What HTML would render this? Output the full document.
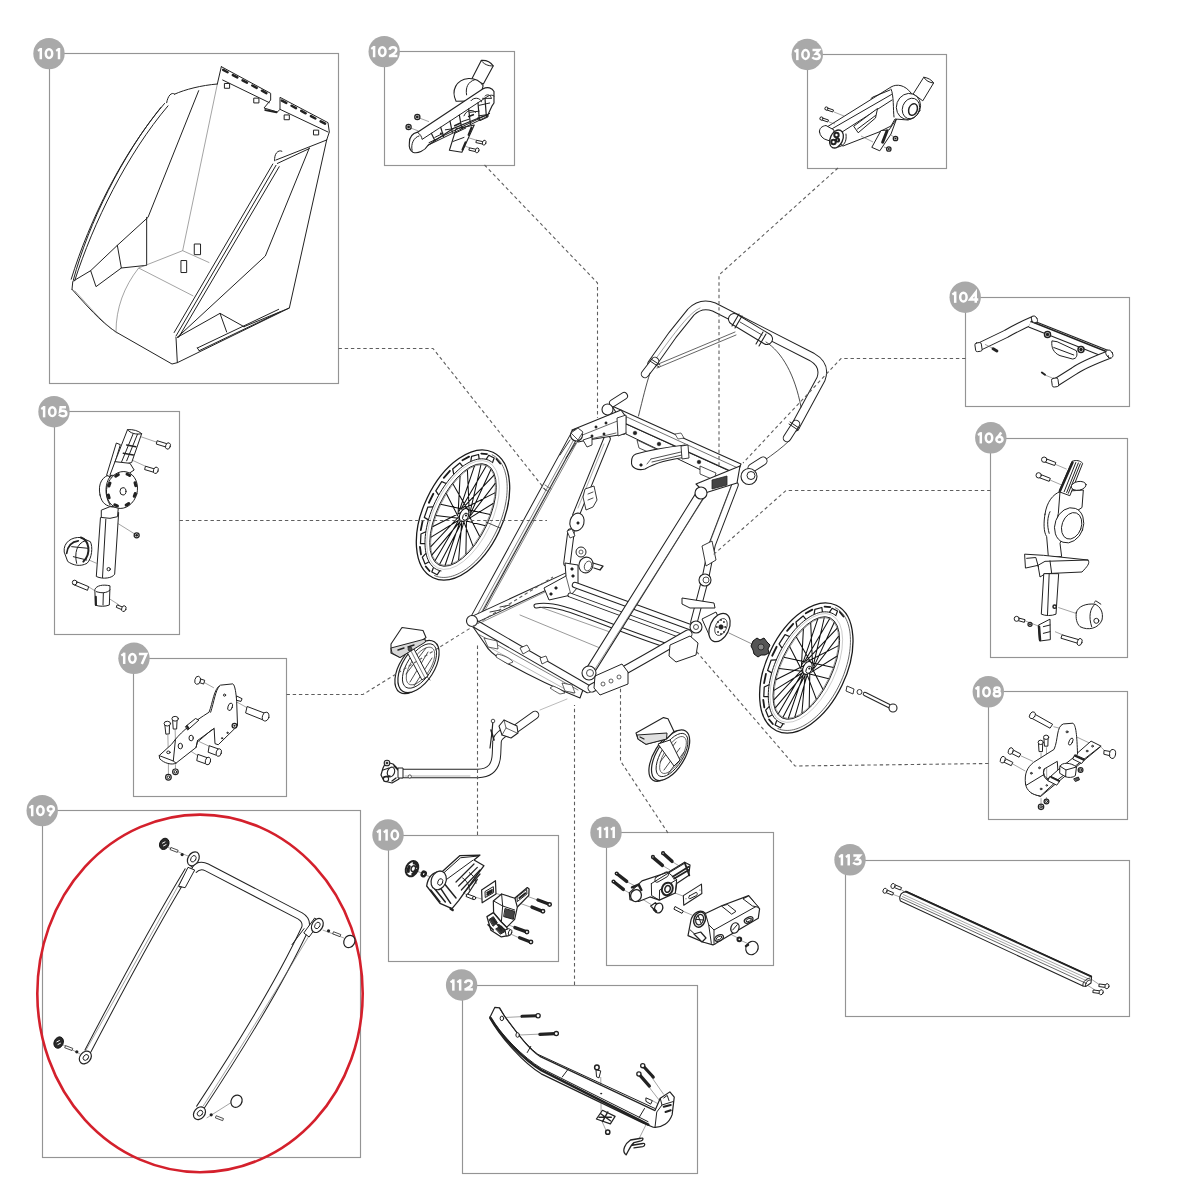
<!DOCTYPE html>
<html><head><meta charset="utf-8">
<style>
html,body{margin:0;padding:0;background:#fff;}
body{width:1200px;height:1200px;overflow:hidden;}
svg{display:block;}
.bx{fill:none;stroke:#949494;stroke-width:1.15;}
.ds{fill:none;stroke:#5e5e5e;stroke-width:1.1;stroke-dasharray:3.4 2.8;}
.lb circle{fill:#a9a9a9;}
.lb text{fill:#fff;font-family:"Liberation Sans",sans-serif;font-weight:bold;font-size:15px;text-anchor:middle;}
.k{fill:#fff;stroke:#222;stroke-linejoin:round;stroke-linecap:round;}
.kn{fill:none;stroke:#222;stroke-linejoin:round;stroke-linecap:round;}
.th{fill:none;stroke:#666;}
#drawings *{vector-effect:non-scaling-stroke;}
.f{fill:#222;stroke:none;}
.k:not([stroke-width]),.kn:not([stroke-width]){stroke-width:1;}
.th:not([stroke-width]){stroke-width:0.6;}
</style></head>
<body>
<svg width="1200" height="1200" viewBox="0 0 1200 1200">
<!-- boxes -->
<g class="bx">
<rect x="49.5" y="53.5" width="289" height="330"/>
<rect x="384.5" y="51.5" width="130" height="114"/>
<rect x="807.5" y="54.5" width="139" height="114"/>
<rect x="965.5" y="297.5" width="164" height="109"/>
<rect x="54.5" y="411.5" width="125" height="223"/>
<rect x="990.5" y="438.5" width="137" height="219"/>
<rect x="133.5" y="658.5" width="153" height="138"/>
<rect x="988.5" y="691.5" width="139" height="128"/>
<rect x="42.5" y="810.5" width="318" height="347"/>
<rect x="388.5" y="835.5" width="170" height="126"/>
<rect x="606.5" y="832.5" width="167" height="133"/>
<rect x="462.5" y="985.5" width="235" height="188"/>
<rect x="845.5" y="860.5" width="284" height="156"/>
</g>
<!-- red ellipse -->
<ellipse cx="200" cy="993.4" rx="162.7" ry="178.8" fill="none" stroke="#d4202c" stroke-width="2.6"/>
<!-- DRAWINGS -->
<g id="drawings">
<g transform="translate(60,60) scale(0.266667)">
<!-- back panel -->
<path class="kn" d="M605 25 L790 125 L790 150 L765 180 L815 195 L825 185 L825 140 L1005 235 L1010 270 L1000 300"/>
<path class="kn" d="M605 25 L590 90"/>
<path class="th" d="M590 90 L460 715"/>
<path class="kn" d="M610 75 L785 160 M825 185 L1005 270"/>
<path class="kn" stroke-width="2.5" stroke-dasharray="5 6" d="M612 37 L785 130 M832 152 L1000 242"/>
<path class="kn" stroke-width="2" d="M770 188 L812 196"/>
<path class="kn" d="M618 88h18v18h-18z M728 143h18v18h-18z M842 206h18v18h-18z M952 263h18v18h-18z"/>
<!-- left panel -->
<path class="kn" d="M590 90 C530 95 470 110 430 128"/>
<path class="kn" d="M430 128 C418 118 404 135 400 160"/>
<path class="kn" d="M392 163 C240 340 110 600 42 822 M405 172 C252 352 125 610 55 828 M378 178 C232 360 108 610 50 825"/>
<path class="kn" d="M520 115 L330 590 L215 695 L115 790 L135 850 L230 780 L215 695 M230 780 L325 770 L325 590"/>
<path class="kn" d="M45 860 L48 830 L115 790"/>
<path class="kn" d="M45 860 C100 920 150 980 210 1020 L420 1140 L440 1135 L860 930"/>
<path class="th" d="M295 780 C240 850 210 930 210 1020"/>
<path class="th" d="M295 780 L460 715 L560 760 M295 780 L500 885"/>
<path class="th" d="M55 865 C110 925 160 985 215 1025"/>
<!-- right panel -->
<path class="kn" d="M810 375 L1000 300 M815 388 L935 332"/>
<path class="kn" d="M805 378 C802 352 818 335 832 342"/>
<path class="kn" d="M810 395 L435 1035 M798 390 L428 1022 M822 400 L445 1040"/>
<path class="kn" d="M935 330 L770 735 L440 1040"/>
<path class="kn" d="M1000 300 L860 930 L690 1000"/>
<path class="kn" d="M435 1040 L440 1135"/>
<path class="kn" d="M440 1040 L600 950 L690 1000 M600 950 L625 1020"/>
<path class="kn" d="M515 1080 L820 935 M522 1090 L825 945 M515 1080 L522 1090"/>
<!-- floor tabs -->
<path class="kn" d="M505 690h22v40h-22z M455 752h20v45h-20z"/>
</g>

<g transform="translate(380,40) scale(0.116667)">
<path class="th" d="M340 670 L420 700 M265 755 L330 780 M830 860 L700 820 M770 925 L650 880"/>
<path class="k" d="M788 332 L868 175 C910 172 950 192 970 222 L886 378 Z" stroke-width="1.1"/>
<path class="kn" d="M868 175 C885 206 930 226 970 222"/>
<path class="k" d="M652 525 C608 435 650 340 760 330 C822 328 862 358 884 392 L852 522 Z" stroke-width="1.1"/>
<path class="kn" d="M742 470 C732 410 750 360 812 340"/>
<path class="k" d="M595 945 L652 762 L808 728 L702 962 Z" stroke-width="1.1"/>
<path class="kn" stroke-width="2" stroke-dasharray="8 8" d="M785 750 L705 945"/>
<path class="kn" d="M640 800 L735 755 M625 870 L720 835"/>
<path class="k" d="M252 880 C252 830 282 800 322 790 L880 420 C922 398 962 410 977 442 L977 540 L962 562 L925 640 L862 662 L620 762 L412 902 C382 952 322 977 282 962 C257 947 247 917 252 880 Z" stroke-width="1.15"/>
<path class="kn" d="M322 792 C345 805 358 830 361 852 L925 482 C945 470 965 470 977 480"/>
<path class="kn" d="M275 945 C262 890 290 835 335 822"/>
<path class="kn" d="M412 902 L930 650 M420 880 L940 630"/>
<path class="kn" stroke-width="1.2" d="M440 800 L470 862 M520 748 L545 828 M600 695 L620 792 M680 643 L700 757 M760 590 L775 722 M840 538 L852 688 M900 500 L912 660"/>
<path class="kn" d="M470 835 L540 800 M560 770 L630 760 M700 700 L760 680 M770 620 L850 610 M850 560 L940 540 M880 500 L950 500"/>
<path class="kn" stroke-width="1.6" d="M640 735 L690 712 M760 655 L800 640"/>
<path class="kn" d="M720 650 C740 600 790 590 820 620 M780 520 C800 490 860 490 870 530 M900 480 C920 460 950 470 955 500"/>
<circle class="f" cx="522" cy="802" r="9"/>
<circle class="f" cx="842" cy="672" r="9"/>
<path class="kn" d="M845 650 L920 640 L925 660 L860 690"/>
<circle class="k" cx="320" cy="660" r="22" stroke-width="1.3"/>
<circle class="f" cx="320" cy="660" r="12"/>
<circle class="k" cx="245" cy="745" r="22" stroke-width="1.3"/>
<circle class="f" cx="245" cy="745" r="12"/>
<path class="k" d="M830 860 L885 872 L880 892 L825 880 Z"/>
<ellipse class="k" cx="893" cy="880" rx="15" ry="22" transform="rotate(20 893 880)"/>
<path class="k" d="M770 925 L825 937 L820 957 L765 945 Z"/>
<ellipse class="k" cx="833" cy="946" rx="15" ry="22" transform="rotate(20 833 946)"/>
</g>

<g transform="translate(815,70) scale(0.1)">
<path class="k" d="M985 235 L1088 72 C1130 78 1168 100 1186 130 L1080 305 Z"/>
<path class="kn" d="M1088 72 C1105 108 1150 128 1186 130"/>
<path class="k" d="M120 570 L760 170 C820 135 900 150 960 230 L1040 300 C1060 400 1020 480 930 500 L800 490 L760 560 L640 620 L280 760 Z"/>
<path class="kn" d="M175 585 L765 245 M240 640 L770 300 M560 285 L580 270 L750 200"/>
<path class="kn" d="M760 190 C790 250 780 400 790 470"/>
<ellipse class="k" cx="935" cy="365" rx="120" ry="132" transform="rotate(20 935 365)"/>
<ellipse class="kn" cx="960" cy="385" rx="85" ry="105" transform="rotate(20 960 385)"/>
<ellipse class="k" cx="980" cy="395" rx="42" ry="60" transform="rotate(20 980 395)" stroke-width="1.5"/>
<path class="k" d="M390 560 L625 385 L605 480 L435 625 Z"/>
<path class="kn" stroke-width="1" d="M425 590 L605 455"/>
<path class="k" d="M45 620 C40 585 70 560 110 555 L190 600 L180 720 L120 700 C80 690 50 660 45 620 Z"/>
<ellipse class="k" cx="215" cy="690" rx="62" ry="95" transform="rotate(25 215 690)" stroke-width="1.3"/>
<circle class="kn" cx="215" cy="650" r="22" stroke-width="2"/>
<circle class="kn" cx="185" cy="720" r="22" stroke-width="2"/>
<circle class="kn" cx="225" cy="700" r="16" stroke-width="2"/>
<path class="kn" d="M230 770 C290 760 320 720 310 640"/>
<path class="k" d="M570 770 L660 605 L740 600 L815 490 L760 640 L650 805 Z"/>
<path class="kn" stroke-width="3" stroke-dasharray="12 10" d="M720 610 L650 790"/>
<path class="th" d="M190 420 L290 460 M140 520 L200 540 M460 660 L580 720 M830 700 L760 650 M760 800 L690 770"/>
<path class="k" d="M110 375 L185 400 L178 420 L105 395 Z"/>
<circle class="k" cx="115" cy="385" r="16"/>
<path class="k" d="M60 475 L135 500 L128 520 L55 495 Z"/>
<circle class="k" cx="65" cy="485" r="16"/>
<circle class="k" cx="805" cy="685" r="22" stroke-width="1.3"/>
<circle class="f" cx="805" cy="685" r="11"/>
<circle class="k" cx="738" cy="790" r="22" stroke-width="1.3"/>
<circle class="f" cx="738" cy="790" r="11"/>
</g>

<g transform="translate(970,310) scale(0.125)">
<path fill="none" stroke="#222" stroke-width="8.6" stroke-linecap="butt" d="M70 296 L290 190 C360 150 440 110 515 78"/>
<path fill="none" stroke="#fff" stroke-width="6.6" stroke-linecap="butt" d="M70 296 L290 190 C360 150 440 110 515 78"/>
<path fill="none" stroke="#222" stroke-width="8.6" d="M480 108 L1095 352"/>
<path fill="none" stroke="#fff" stroke-width="6.6" d="M480 108 L1095 352"/>
<path class="kn" d="M490 92 L1085 330" stroke-width="1.6"/>
<path fill="none" stroke="#222" stroke-width="8.6" d="M1118 355 C1000 400 900 440 830 490 L684 582"/>
<path fill="none" stroke="#fff" stroke-width="6.6" d="M1118 355 C1000 400 900 440 830 490 L684 582"/>
<rect class="k" x="42" y="262" width="52" height="70" rx="14" transform="rotate(-8 68 297)"/>
<rect class="k" x="655" y="545" width="52" height="70" rx="14" transform="rotate(-8 681 580)"/>
<ellipse class="k" cx="515" cy="75" rx="22" ry="30" transform="rotate(-30 515 75)"/>
<ellipse class="k" cx="1115" cy="352" rx="25" ry="35" transform="rotate(-30 1115 352)"/>
<circle class="f" cx="1105" cy="368" r="7"/>
<path class="k" d="M655 250 C648 300 670 345 720 365 L820 392 C855 390 862 360 850 325 L700 255 Z"/>
<path class="kn" d="M670 300 L830 360"/>
<circle class="k" cx="620" cy="195" r="24" stroke-width="1.5"/>
<circle class="f" cx="620" cy="195" r="14"/>
<circle class="k" cx="888" cy="315" r="24" stroke-width="1.5"/>
<circle class="f" cx="888" cy="315" r="14"/>
<path class="th" d="M120 275 L180 305 M600 520 L660 545"/>
<path class="kn" stroke-width="3" d="M185 310 L215 328"/>
<path class="kn" stroke-width="2" d="M575 500 L600 518"/>
</g>

<g transform="translate(60,420) scale(0.166667)">
<path class="th" d="M470 95 L600 140 M420 235 L540 290 M330 610 L450 685 M150 830 L220 860 M170 1000 L210 1025 M300 1075 L355 1110"/>
<path class="k" d="M245 585 L352 555 L328 925 C315 948 260 958 220 940 Z"/>
<path class="kn" d="M275 595 L255 945"/>
<circle class="k" cx="292" cy="895" r="10"/>
<path class="k" d="M250 540 L300 520 L350 525 L345 580 L300 590 L250 585 Z"/>
<path class="k" d="M240 450 C225 380 255 335 310 325 L360 345 L320 520 C280 520 250 500 240 450 Z"/>
<path class="k" d="M280 330 L338 138 L362 148 L305 340 Z"/>
<path class="k" d="M330 250 L405 58 C440 55 470 65 490 82 L430 255 L390 265 Z"/>
<path class="kn" d="M405 58 C420 80 460 90 490 82 M370 250 L440 80 M400 245 L465 85"/>
<path class="kn" stroke-width="1.5" d="M380 200 L440 210 M400 150 L455 160"/>
<path class="k" d="M300 330 L330 250 L420 260 L445 300 L400 330 Z"/>
<ellipse class="k" cx="372" cy="420" rx="92" ry="112" transform="rotate(15 372 420)"/>
<ellipse class="kn" cx="372" cy="420" rx="82" ry="100" transform="rotate(15 372 420)" stroke-width="3" stroke-dasharray="3 9"/>
<ellipse class="k" cx="378" cy="428" rx="18" ry="22"/>
<path class="kn" d="M300 340 C270 380 265 450 300 510"/>
<circle class="k" cx="460" cy="692" r="15" stroke-width="1.3"/>
<circle class="f" cx="460" cy="692" r="8"/>
<path class="k" d="M585 125 L650 145 L645 165 L580 145 Z"/>
<ellipse class="k" cx="648" cy="156" rx="14" ry="20" transform="rotate(20 648 156)"/>
<path class="k" d="M515 278 L572 295 L567 315 L510 298 Z"/>
<ellipse class="k" cx="575" cy="302" rx="14" ry="20" transform="rotate(20 575 302)"/>
<path class="k" d="M25 790 C18 735 70 700 125 705 L182 730 C198 760 192 830 162 860 C120 882 78 872 48 850 Z"/>
<path class="kn" stroke-width="2" d="M125 705 C175 720 190 800 140 850"/>
<path class="kn" d="M70 760 L170 770 M80 820 L160 840 M100 860 C85 800 100 740 150 725"/>
<path class="kn" stroke-width="1.6" d="M40 800 C45 760 70 730 110 725"/>
<path class="k" d="M88 965 L172 1000 L165 1022 L80 987 Z"/>
<circle class="k" cx="88" cy="975" r="14"/>
<path class="k" d="M210 1015 C218 993 258 985 300 995 L296 1110 C270 1120 240 1120 214 1112 Z"/>
<path class="kn" d="M218 1030 C250 1040 280 1040 300 1020 M260 1040 L258 1110"/>
<path class="kn" stroke-width="2" d="M215 1060 L216 1110"/>
<path class="k" d="M345 1110 L382 1125 L376 1140 L340 1125 Z"/>
<ellipse class="k" cx="383" cy="1132" rx="13" ry="18" transform="rotate(20 383 1132)"/>
</g>

<g transform="translate(1000,450) scale(0.166667)">
<path class="th" d="M330 85 L400 115 M300 180 L370 210 M350 945 L470 985 M150 1025 L240 1060 M330 1090 L390 1115"/>
<path class="k" d="M270 385 C280 310 320 265 360 250 L500 240 L492 345 L440 380 L360 560 L370 640 L290 640 L280 520 C260 490 262 430 270 385 Z"/>
<path class="kn" d="M360 250 L350 380 L330 470 M300 370 C285 400 280 450 295 500"/>
<path class="k" d="M355 248 L432 68 C458 58 482 64 496 80 L420 272 Z"/>
<path class="kn" stroke-width="2.5" d="M360 245 L435 75"/>
<path class="kn" d="M385 250 L455 75 M400 255 L470 78 M410 260 L482 82"/>
<ellipse class="k" cx="472" cy="215" rx="45" ry="26" transform="rotate(-10 472 215)"/>
<ellipse class="k" cx="415" cy="452" rx="85" ry="108" transform="rotate(20 415 452)"/>
<ellipse class="k" cx="430" cy="455" rx="58" ry="82" transform="rotate(20 430 455)"/>
<path class="k" d="M150 625 L262 632 L528 660 C542 680 522 700 492 732 L272 742 L240 762 L228 692 L155 708 Z"/>
<path class="kn" d="M228 692 L270 668 L528 660 M160 650 L215 645 L230 700 M300 665 L310 740"/>
<path class="k" d="M265 742 L352 742 L336 985 C310 996 272 996 250 986 Z"/>
<path class="kn" d="M295 745 L285 990"/>
<circle class="k" cx="328" cy="940" r="10" stroke-width="1.5"/>
<path class="k" d="M458 975 C468 935 520 920 570 925 C602 940 622 972 612 1020 C592 1070 530 1086 480 1060 C460 1040 453 1010 458 975 Z"/>
<path class="kn" d="M570 925 C540 950 530 1000 550 1060 M565 915 L575 905 L605 925"/>
<circle class="k" cx="578" cy="1025" r="15"/>
<path class="k" d="M265 48 L335 75 L328 93 L258 68 Z"/>
<circle class="k" cx="265" cy="58" r="16"/>
<path class="k" d="M232 142 L302 170 L295 188 L225 162 Z"/>
<circle class="k" cx="232" cy="152" r="16"/>
<path class="k" d="M100 1005 L150 1018 L146 1034 L96 1020 Z"/>
<circle class="k" cx="100" cy="1013" r="15"/>
<circle class="k" cx="180" cy="1046" r="12" stroke-width="1.3"/>
<circle class="f" cx="180" cy="1046" r="6"/>
<path class="k" d="M232 1050 L300 1015 L302 1138 L240 1146 Z"/>
<path class="kn" stroke-width="2.5" d="M234 1060 L240 1140"/>
<path class="kn" d="M260 1060 L300 1050 M260 1100 L300 1090"/>
<path class="k" d="M375 1110 L480 1140 L474 1162 L368 1130 Z"/>
<ellipse class="k" cx="478" cy="1152" rx="14" ry="22" transform="rotate(20 478 1152)"/>
</g>

<g transform="translate(150,670) scale(0.108333)">
<path class="th" d="M500 115 L590 165 M700 240 L900 350 M430 650 L560 710 M300 700 L440 790 M165 600 L168 740 M232 550 L236 700 M170 860 L170 970 M235 870 L235 920"/>
<path class="k" d="M800 240 L850 265 L840 290 L800 280 Z"/>
<path class="k" d="M235 640 C300 560 400 480 545 390 C580 300 590 170 650 140 L765 128 C785 140 795 220 800 290 L808 515 L630 690 L600 680 L592 540 L440 650 L425 715 L240 860 C200 880 130 860 90 820 L85 790 L195 690 Z"/>
<path class="kn" d="M85 790 L215 840 L240 860 M215 840 L235 640 M560 390 C590 300 605 180 640 150 M425 715 L440 650"/>
<path class="k" d="M330 520 L420 448 L452 462 L350 552 Z"/>
<path class="f" d="M330 520 L350 552 L365 538 L345 505 Z"/>
<path class="kn" d="M450 655 L560 560 L592 540"/>
<ellipse class="k" cx="740" cy="340" rx="20" ry="36" transform="rotate(20 740 340)"/>
<circle class="k" cx="688" cy="232" r="10"/>
<ellipse class="k" cx="380" cy="628" rx="20" ry="26"/>
<ellipse class="k" cx="280" cy="702" rx="20" ry="26"/>
<ellipse class="k" cx="170" cy="760" rx="16" ry="12"/>
<circle class="k" cx="665" cy="630" r="6"/>
<circle class="k" cx="715" cy="580" r="6"/>
<circle class="k" cx="780" cy="515" r="22" stroke-width="1.3"/>
<circle class="f" cx="780" cy="515" r="10"/>
<path class="k" d="M900 338 L1062 400 L1046 462 L886 398 Z"/>
<ellipse class="k" cx="1068" cy="430" rx="30" ry="42" transform="rotate(15 1068 430)"/>
<path class="k" d="M448 78 L505 95 L495 130 L440 110 Z"/>
<ellipse class="k" cx="440" cy="95" rx="26" ry="38" transform="rotate(15 440 95)"/>
<path class="k" d="M140 500 L180 500 L178 590 L150 592 Z"/>
<ellipse class="k" cx="160" cy="495" rx="30" ry="22"/>
<path class="k" d="M212 455 L250 455 L246 545 L218 545 Z"/>
<ellipse class="k" cx="232" cy="450" rx="30" ry="22"/>
<path class="k" d="M550 700 L635 730 L620 790 L540 760 Z"/>
<ellipse class="k" cx="635" cy="762" rx="24" ry="36" transform="rotate(15 635 762)"/>
<path class="k" d="M445 780 L535 812 L520 868 L435 838 Z"/>
<ellipse class="k" cx="535" cy="840" rx="24" ry="36" transform="rotate(15 535 840)"/>
<circle class="k" cx="170" cy="990" r="26" stroke-width="1.2"/>
<circle class="kn" cx="170" cy="990" r="12"/>
<circle class="k" cx="235" cy="940" r="26" stroke-width="1.2"/>
<circle class="kn" cx="235" cy="940" r="12"/>
</g>

<g transform="translate(995,705) scale(0.108333)">
<path class="th" d="M240 470 L350 520 M165 545 L280 610 M540 200 L600 215 M680 260 L870 350 M980 390 L1010 420 M425 440 L425 770 M475 390 L478 740 M425 860 L425 910 M475 850 L475 870"/>
<path class="k" d="M890 335 L980 380 L420 845 L340 815 Z"/>
<path class="kn" d="M400 830 L970 385"/>
<path class="k" d="M282 730 C268 630 300 575 355 530 L545 410 C585 320 565 200 630 175 L720 168 C748 188 756 280 762 455 L580 600 L575 520 L455 590 C440 640 450 680 500 700 L550 720 L420 840 C340 830 290 790 282 730 Z"/>
<path class="kn" d="M290 740 L455 640 M455 590 C430 640 460 680 520 690"/>
<ellipse class="k" cx="700" cy="338" rx="16" ry="35" transform="rotate(25 700 338)"/>
<circle class="k" cx="665" cy="248" r="9"/>
<circle class="k" cx="335" cy="630" r="8"/>
<circle class="k" cx="410" cy="580" r="8"/>
<circle class="k" cx="425" cy="775" r="8"/>
<circle class="k" cx="478" cy="742" r="7"/>
<path class="k" d="M740 460 L830 500 L800 540 L720 500 Z"/>
<path class="k" d="M510 660 L600 700 L570 740 L490 700 Z"/>
<path class="kn" stroke-width="2" d="M520 665 L590 700 M740 470 L815 505"/>
<path class="k" d="M600 565 C620 525 700 530 752 572 L742 652 C722 672 672 672 652 662 L600 632 Z"/>
<path class="kn" d="M600 565 L655 600 L752 572 M655 600 L652 662"/>
<circle class="k" cx="790" cy="600" r="22" stroke-width="1.2"/>
<circle class="kn" cx="790" cy="600" r="10"/>
<path class="k" d="M730 680 L770 665 L780 690 L745 705 Z" style="fill:#555"/>
<circle class="k" cx="850" cy="425" r="8"/>
<circle class="k" cx="900" cy="380" r="8"/>
<path class="k" d="M345 72 L532 178 L508 214 L320 112 Z"/>
<ellipse class="k" cx="345" cy="95" rx="24" ry="34" transform="rotate(30 345 95)"/>
<path class="k" d="M1010 420 L1070 430 L1068 470 L1008 455 Z"/>
<ellipse class="k" cx="1085" cy="452" rx="28" ry="42" transform="rotate(10 1085 452)"/>
<path class="k" d="M75 485 L165 530 L150 560 L62 518 Z"/>
<ellipse class="k" cx="72" cy="505" rx="22" ry="32" transform="rotate(20 72 505)"/>
<path class="k" d="M148 405 L238 452 L222 482 L135 438 Z"/>
<ellipse class="k" cx="145" cy="425" rx="22" ry="32" transform="rotate(20 145 425)"/>
<path class="k" d="M405 350 L440 350 L438 430 L410 430 Z"/>
<ellipse class="k" cx="422" cy="345" rx="24" ry="20"/>
<path class="k" d="M455 305 L490 305 L488 380 L460 380 Z"/>
<ellipse class="k" cx="472" cy="298" rx="24" ry="20"/>
<circle class="k" cx="425" cy="940" r="25" stroke-width="1.2"/>
<circle class="kn" cx="425" cy="940" r="11"/>
<circle class="k" cx="475" cy="890" r="22" stroke-width="1.2"/>
<circle class="kn" cx="475" cy="890" r="10"/>
</g>

<g transform="translate(40,830) scale(0.266667)">
<path fill="none" stroke="#222" stroke-width="7.2" stroke-linecap="butt" stroke-linejoin="round" d="M555 150 C440 340 320 560 178 832"/>
<path fill="none" stroke="#fff" stroke-width="5.2" stroke-linecap="butt" stroke-linejoin="round" d="M555 150 C440 340 320 560 178 832"/>
<path class="th" d="M540 170 C430 370 310 580 170 830"/>
<path fill="none" stroke="#222" stroke-width="8.4" stroke-linejoin="round" d="M575 150 C590 135 605 130 625 140 L975 322 Q1003 338 995 368 C900 570 760 800 598 1045"/>
<path fill="none" stroke="#fff" stroke-width="6.4" stroke-linejoin="round" d="M575 150 C590 135 605 130 625 140 L975 322 Q1003 338 995 368 C900 570 760 800 598 1045"/>
<path class="th" d="M1010 395 C905 570 770 790 612 1035"/>
<path class="kn" d="M525 215 L585 120 M945 430 L990 370"/>
<path class="k" d="M520 210 L555 140 L580 150 L545 215 Z"/>
<ellipse class="k" cx="575" cy="108" rx="20" ry="28" transform="rotate(30 575 108)" stroke-width="1.2"/>
<ellipse class="kn" cx="575" cy="108" rx="9" ry="13" transform="rotate(30 575 108)"/>
<path class="k" d="M990 385 L1030 330 L1050 345 L1010 400 Z"/>
<ellipse class="k" cx="1040" cy="358" rx="20" ry="28" transform="rotate(30 1040 358)" stroke-width="1.2"/>
<ellipse class="kn" cx="1040" cy="358" rx="9" ry="13" transform="rotate(30 1040 358)"/>
<ellipse class="k" cx="170" cy="853" rx="20" ry="26" transform="rotate(40 170 853)" stroke-width="1.2"/>
<ellipse class="kn" cx="172" cy="853" rx="9" ry="12" transform="rotate(40 172 853)"/>
<ellipse class="k" cx="598" cy="1062" rx="20" ry="26" transform="rotate(40 598 1062)" stroke-width="1.2"/>
<ellipse class="kn" cx="600" cy="1062" rx="9" ry="12" transform="rotate(40 600 1062)"/>
<path class="th" d="M480 65 L560 100 M85 805 L150 840 M1060 375 L1140 405 M625 1080 L720 1020"/>
<ellipse cx="466" cy="52" rx="17" ry="22" transform="rotate(25 466 52)" style="fill:#2a2a2a" stroke="#111" stroke-width="1"/>
<path fill="none" stroke="#fff" stroke-width="1" d="M458 50 L470 44 M462 60 L474 54"/>
<circle class="f" cx="533" cy="92" r="6"/>
<path class="k" d="M492 66 L518 76 L515 84 L489 74 Z" stroke-width="0.8"/>
<ellipse cx="70" cy="797" rx="17" ry="22" transform="rotate(25 70 797)" style="fill:#2a2a2a" stroke="#111" stroke-width="1"/>
<path fill="none" stroke="#fff" stroke-width="1" d="M62 795 L74 789 M66 805 L78 799"/>
<circle class="f" cx="138" cy="832" r="6"/>
<path class="k" d="M97 809 L123 819 L120 827 L94 817 Z" stroke-width="0.8"/>
<circle class="f" cx="1082" cy="378" r="6"/>
<path class="k" d="M1102 382 L1128 392 L1125 400 L1099 390 Z" stroke-width="0.8"/>
<ellipse class="k" cx="1160" cy="418" rx="20" ry="24" transform="rotate(30 1160 418)" stroke-width="1.2"/>
<circle class="f" cx="642" cy="1068" r="6"/>
<path class="k" d="M662 1072 L688 1082 L685 1090 L659 1080 Z" stroke-width="0.8"/>
<ellipse class="k" cx="737" cy="1017" rx="20" ry="24" transform="rotate(30 737 1017)" stroke-width="1.2"/>
</g>

<g transform="translate(400,850) scale(0.133333)">
<path class="th" d="M130 160 L170 175 M195 190 L240 205 M450 310 L510 340 M570 355 L620 370 M720 325 L780 345 M950 345 L1030 375 M900 400 L985 430 M810 560 L860 580 M830 630 L895 660"/>
<ellipse class="k" cx="90" cy="140" rx="44" ry="60" transform="rotate(25 90 140)" stroke-width="2"/>
<ellipse class="kn" cx="95" cy="140" rx="30" ry="45" transform="rotate(25 95 140)" stroke-width="3" stroke-dasharray="5 6"/>
<ellipse class="kn" cx="100" cy="140" rx="16" ry="22" transform="rotate(25 100 140)" stroke-width="1.5"/>
<ellipse class="k" cx="178" cy="180" rx="14" ry="18" transform="rotate(25 178 180)" stroke-width="2.5"/>
<path class="k" d="M320 160 L450 42 L600 38 L555 75 L630 118 L550 225 L440 380 L390 440 L300 400 L200 270 C210 200 250 165 300 160 Z" stroke-width="1.3"/>
<path class="kn" d="M330 170 L455 58 L590 45 M350 220 L545 78"/>
<path class="kn" stroke-width="1.2" d="M420 240 L555 105 M440 270 L580 130 M460 300 L600 150 M480 320 L600 180 M500 345 L580 220"/>
<path class="kn" d="M470 210 C500 230 520 260 520 300 M520 170 C550 190 570 220 570 250"/>
<path class="kn" stroke-width="1.5" d="M230 300 L300 390 M260 290 L340 390 M300 280 L380 400 M330 250 L420 360"/>
<ellipse class="k" cx="290" cy="228" rx="55" ry="72" transform="rotate(22 290 228)" stroke-width="1.2"/>
<ellipse class="kn" cx="302" cy="240" rx="18" ry="26" transform="rotate(22 302 240)"/>
<path class="kn" stroke-width="2.5" d="M380 440 L395 450"/>
<path class="k" d="M505 330 L560 350 L552 372 L498 350 Z"/>
<circle class="k" cx="556" cy="360" r="12"/>
<path class="k" d="M612 300 L716 230 L720 330 L616 396 Z" stroke-width="1.2"/>
<path class="kn" d="M640 310 L700 275 L702 320 L642 355 Z"/>
<path class="kn" stroke-width="2" d="M655 320 L690 300 M655 335 L690 315"/>
<path class="k" d="M862 360 L955 282 L968 292 L966 340 L880 428 L862 420 Z" stroke-width="1.3"/>
<path class="kn" d="M880 350 L950 295 L952 330 L882 385 Z"/>
<path class="kn" stroke-width="2" d="M895 360 L940 325"/>
<path class="k" d="M700 382 L762 330 L862 362 L880 428 L860 520 L800 580 L760 540 L702 470 Z" stroke-width="1.2"/>
<path class="kn" d="M762 330 L770 420 L860 450 M702 382 L770 420 M770 420 L760 540"/>
<path class="k" d="M790 440 L860 460 L850 520 L780 500 Z" style="fill:#444" stroke-width="1"/>
<path class="k" d="M652 500 L700 470 L760 540 L800 580 L822 640 L760 652 L682 602 Z" stroke-width="1.3"/>
<path class="k" d="M670 520 L700 500 L730 545 L700 570 Z" style="fill:#333"/>
<path class="k" d="M720 590 L760 570 L790 610 L755 630 Z" style="fill:#333"/>
<path class="kn" stroke-width="1.5" d="M660 560 L700 600 M700 520 L760 600 M740 560 L800 610"/>
<path class="k" d="M790 600 L815 590 C835 595 840 625 825 640 L800 645 Z"/>
<ellipse class="k" cx="826" cy="618" rx="12" ry="22" transform="rotate(20 826 618)"/>
<path class="kn" stroke-width="3.4" d="M1035 375 L1115 405 M990 428 L1065 458 M862 582 L945 612 M897 658 L975 688"/>
<circle class="k" cx="1122" cy="408" r="13" stroke-width="1.5"/>
<circle class="k" cx="1072" cy="460" r="13" stroke-width="1.5"/>
<circle class="k" cx="952" cy="615" r="13" stroke-width="1.5"/>
<circle class="k" cx="982" cy="690" r="13" stroke-width="1.5"/>
</g>

<g transform="translate(610,850) scale(0.133333)">
<path class="th" d="M470 90 L520 120 M400 120 L450 150 M130 240 L180 265 M105 300 L160 330 M245 370 L310 410 M480 320 L560 350 M550 460 L620 490 M880 620 L960 660 M985 680 L1030 700"/>
<path class="k" d="M145 322 L240 232 L440 165 L560 92 L600 112 L590 192 L500 252 L490 322 L370 376 L300 352 L215 386 L150 372 Z" stroke-width="1.2"/>
<path class="kn" d="M310 252 L440 172 L500 222 L490 322 M310 252 L312 342 L370 376 L372 300 L500 222 M440 172 L560 100"/>
<path class="kn" d="M345 205 L420 165 C440 160 445 185 430 200 L360 240 C335 250 330 220 345 205 Z"/>
<path class="kn" stroke-width="1.8" d="M470 200 L590 125 M480 215 L590 150 M560 95 L595 190"/>
<ellipse class="k" cx="430" cy="292" rx="40" ry="48" transform="rotate(20 430 292)" stroke-width="2"/>
<ellipse class="kn" cx="432" cy="292" rx="20" ry="26" transform="rotate(20 432 292)" stroke-width="1.5"/>
<ellipse class="k" cx="195" cy="342" rx="40" ry="45" transform="rotate(20 195 342)" stroke-width="1.3"/>
<path class="kn" stroke-width="2.5" d="M165 280 L215 260 L235 300"/>
<path class="kn" stroke-width="3.4" d="M398 25 L465 85 M322 55 L393 115 M52 178 L125 235 M28 238 L100 295"/>
<circle class="k" cx="398" cy="24" r="10" stroke-width="1.5"/>
<circle class="k" cx="322" cy="52" r="10" stroke-width="1.5"/>
<circle class="k" cx="50" cy="176" r="10" stroke-width="1.5"/>
<circle class="k" cx="26" cy="236" r="10" stroke-width="1.5"/>
<path class="k" d="M305 420 L340 395 L365 415 L335 450 Z" stroke-width="1.2"/>
<ellipse class="k" cx="365" cy="435" rx="30" ry="38" transform="rotate(20 365 435)" stroke-width="1.3"/>
<path class="kn" stroke-width="2.5" d="M330 445 L345 460"/>
<path class="k" d="M490 425 L550 458 L540 475 L482 445 Z"/>
<path class="k" d="M550 342 L686 256 L689 326 L553 414 Z" stroke-width="1.1"/>
<path class="kn" d="M595 345 L645 318 C655 315 658 335 648 342 L600 365 C590 370 585 350 595 345 Z"/>
<circle class="f" cx="570" cy="365" r="4"/><circle class="f" cx="675" cy="300" r="4"/>
<path class="k" d="M585 642 L608 522 C628 462 682 442 716 476 L842 416 L1040 342 L1122 442 L1112 512 L792 702 L772 712 L702 692 Z" stroke-width="1.2"/>
<path class="kn" d="M716 476 L740 560 L780 600 L1102 420 M740 560 L760 700 M780 600 L780 700 M602 600 L700 690"/>
<ellipse class="k" cx="672" cy="522" rx="42" ry="58" transform="rotate(20 672 522)" stroke-width="1.5"/>
<ellipse class="kn" cx="672" cy="522" rx="28" ry="40" transform="rotate(20 672 522)" stroke-width="1.2"/>
<path class="kn" d="M660 490 L685 555 M645 520 L700 525"/>
<path class="k" d="M840 420 L880 408 L945 460 L915 480 Z"/>
<path class="k" d="M1000 365 L1040 345 L1115 430 L1070 420 Z"/>
<ellipse class="k" cx="818" cy="660" rx="35" ry="22" transform="rotate(-25 818 660)" stroke-width="1.3"/>
<ellipse class="kn" cx="818" cy="660" rx="22" ry="11" transform="rotate(-25 818 660)"/>
<ellipse class="k" cx="937" cy="585" rx="30" ry="40" transform="rotate(20 937 585)" stroke-width="1.3"/>
<path class="kn" d="M920 600 L955 560"/>
<ellipse class="k" cx="1040" cy="525" rx="35" ry="20" transform="rotate(-25 1040 525)" stroke-width="1.3"/>
<ellipse class="kn" cx="1040" cy="525" rx="22" ry="10" transform="rotate(-25 1040 525)"/>
<path class="k" d="M630 630 L680 615 L720 660 L690 690 Z" stroke-width="1.2"/>
<circle class="k" cx="970" cy="670" r="14" stroke-width="2"/>
<ellipse class="k" cx="1065" cy="735" rx="45" ry="52" transform="rotate(30 1065 735)" stroke-width="1.2"/>
<path class="kn" stroke-width="2.5" d="M1020 720 L1035 712"/>
</g>

<g transform="translate(480,1000) scale(0.175)">
<path class="th" d="M140 100 L240 95 M225 200 L340 195 M690 440 L692 640 M700 700 L720 745 M980 440 L1050 540 M960 490 L1030 580 M985 575 L1030 600 M980 650 L910 790"/>
<path class="k" d="M85 42 L112 45 L140 92 C220 200 280 280 342 322 L1000 632 L1030 562 L1085 525 L1110 555 L1098 655 C1082 702 1042 732 990 727 L930 702 L350 422 C250 362 120 217 55 102 L62 88 Z" stroke-width="1.2"/>
<path class="kn" d="M110 45 C150 110 250 250 330 310 L1000 620"/>
<path class="kn" stroke-width="2.4" d="M62 105 C125 212 250 342 352 402 L962 712"/>
<path class="kn" d="M58 95 C120 200 250 330 350 390 L960 695 M290 265 L270 300 M500 400 L470 440 M940 620 L910 670"/>
<path class="kn" d="M1030 562 L1040 600 L1010 640 L1000 727 M1040 600 L1105 580 M1050 560 L1070 545 L1080 575"/>
<path class="kn" stroke-width="2" d="M1050 610 L1090 600 M1060 640 L1090 630"/>
<ellipse class="k" cx="125" cy="105" rx="10" ry="13"/>
<ellipse class="k" cx="215" cy="200" rx="10" ry="13"/>
<path class="kn" stroke-width="3.2" d="M240 93 L325 90 M342 196 L428 192"/>
<circle class="k" cx="332" cy="90" r="12" stroke-width="1.3"/>
<circle class="k" cx="436" cy="192" r="12" stroke-width="1.3"/>
<circle class="k" cx="668" cy="385" r="13" stroke-width="1.5"/>
<path class="k" d="M665 400 L690 405 L680 445 L668 440 Z"/>
<circle class="k" cx="692" cy="535" r="3"/>
<path class="k" d="M665 680 L700 630 L772 665 L745 708 Z" stroke-width="1.2"/>
<path class="kn" stroke-width="1.5" d="M690 650 L745 690 M730 640 L700 695 M680 670 L750 670"/>
<circle class="k" cx="730" cy="755" r="12" stroke-width="1.5"/>
<path class="kn" stroke-width="3.2" d="M935 380 L990 440 M912 428 L968 492"/>
<circle class="k" cx="930" cy="375" r="12" stroke-width="1.3"/>
<circle class="k" cx="908" cy="423" r="12" stroke-width="1.3"/>
<path class="k" d="M950 560 L985 575 L975 595 L950 580 Z"/>
<path class="kn" stroke-width="1.3" d="M830 880 C810 860 830 820 860 800 L920 790 C935 785 935 800 920 805 L880 815 C860 830 850 860 835 885 M870 830 L930 820 C945 815 945 835 930 838 L880 845"/>
</g>

<g transform="translate(870,870) scale(0.2)">
<path class="th" d="M150 95 L175 110 M110 120 L150 135 M1105 545 L1150 575 M1085 575 L1125 600"/>
<path class="k" d="M165 112 L182 108 L1108 532 L1105 565 L1080 582 L1065 580 L152 155 C145 140 150 118 165 112 Z" stroke-width="1.1"/>
<path class="kn" stroke-width="2" d="M180 108 L1105 532"/>
<path class="th" d="M160 132 L1090 557 M165 122 L1098 547"/>
<path class="kn" stroke-width="0.7" d="M156 142 L1083 568"/>

<path class="kn" d="M1065 580 C1060 565 1075 545 1100 540 M1078 578 C1075 565 1085 552 1102 550"/>
<path class="k" d="M120 72 L158 88 L152 100 L115 85 Z"/><ellipse class="k" cx="115" cy="80" rx="10" ry="13" transform="rotate(20 115 80)"/>
<path class="k" d="M80 98 L118 114 L112 126 L75 111 Z"/><ellipse class="k" cx="75" cy="104" rx="10" ry="13" transform="rotate(20 75 104)"/>
<path class="k" d="M1148 570 L1185 575 L1183 588 L1146 583 Z"/><ellipse class="k" cx="1185" cy="581" rx="10" ry="13" transform="rotate(20 1185 581)"/>
<path class="k" d="M1118 600 L1155 605 L1153 618 L1116 613 Z"/><ellipse class="k" cx="1156" cy="611" rx="10" ry="13" transform="rotate(20 1156 611)"/>
</g>

<g id="stroller">
<!-- right wheel & left wheel defined via symbol -->
<defs>
<g id="bigwheel">
  <ellipse rx="39.70" ry="69.50" transform="rotate(25.5)" fill="#fff" stroke="#1a1a1a" stroke-width="1.3"/>
  <path d="M-23.15 55.65L-25.81 59.75L-31.18 56.99L-29.50 52.36M-33.95 46.80L-37.92 48.99L-40.64 42.17L-36.99 38.34M-38.02 28.68L-42.52 28.52L-42.06 19.00L-37.16 16.73M-34.57 4.88L-38.70 2.41L-35.14 -7.94L-29.96 -8.20M-24.26 -19.89L-27.21 -24.19L-21.27 -33.30L-16.83 -31.50M-9.16 -40.72L-10.33 -45.99L-3.18 -52.07L-0.37 -48.57M7.77 -53.48L8.59 -58.68L15.54 -60.52L16.16 -56.01M23.15 -55.65L25.81 -59.75L31.18 -56.99L29.50 -52.36" fill="none" stroke="#1a1a1a" stroke-width="1.25" stroke-linejoin="round"/>
  <path d="M-33.45 56.01L-37.22 51.51M-42.00 39.47L-43.05 31.85M-42.23 15.11L-40.36 5.88M-34.10 -12.24L-29.67 -21.26M-19.21 -37.17L-13.10 -44.18M-0.52 -54.73L6.06 -58.35M18.28 -61.46L24.02 -60.97M33.45 -56.01L37.22 -51.51" fill="none" stroke="#1a1a1a" stroke-width="1.8" stroke-linecap="round"/>
  <path d="M-21.61 55.97L-23.37 55.59L-25.05 55.04L-26.65 54.30L-28.16 53.39L-29.58 52.29L-30.90 51.03L-32.12 49.60L-33.24 48.00L-34.24 46.25L-35.13 44.35L-35.91 42.30L-36.57 40.11L-37.11 37.79L-37.52 35.34L-37.82 32.78L-37.98 30.11L-38.03 27.34L-37.95 24.48L-37.74 21.54L-37.41 18.53L-36.95 15.46L-36.38 12.34L-35.68 9.18L-34.87 5.98L-33.95 2.77L-32.91 -0.45L-31.76 -3.67L-30.51 -6.88L-29.16 -10.06L-27.71 -13.22L-26.17 -16.33L-24.55 -19.38L-22.84 -22.37L-21.06 -25.29L-19.21 -28.12L-17.30 -30.87L-15.33 -33.51L-13.31 -36.04L-11.24 -38.45L-9.14 -40.73L-7.01 -42.89L-4.85 -44.90L-2.68 -46.76L-0.51 -48.47L1.68 -50.02L3.85 -51.40L6.01 -52.62L8.16 -53.66L10.27 -54.53L12.35 -55.21L14.40 -55.72L16.39 -56.04L18.33 -56.18L20.21 -56.13L22.02 -55.90L23.76 -55.48L25.43 -54.88L27.01 -54.11L28.50 -53.15L29.89 -52.02" fill="none" stroke="#1a1a1a" stroke-width="1"/>
  <path d="M28.80 -60.38L30.51 -59.46L32.14 -58.38L33.68 -57.14L35.13 -55.74L36.49 -54.19L37.74 -52.49L38.89 -50.65L39.93 -48.67L40.86 -46.55L41.69 -44.31L42.39 -41.94L42.98 -39.46L43.46 -36.87L43.81 -34.19L44.04 -31.40L44.16 -28.53L44.15 -25.59L44.02 -22.57L43.77 -19.49L43.40 -16.36L42.91 -13.18L42.31 -9.97L41.58 -6.73L40.75 -3.47L39.80 -0.20L38.74 3.07L37.58 6.33L36.31 9.57L34.95 12.79L33.49 15.97L31.93 19.11L30.29 22.20L28.57 25.22L26.77 28.18L24.89 31.06L22.95 33.85L20.94 36.55L18.88 39.15L16.76 41.64L14.60 44.02L12.40 46.28L10.16 48.41L7.90 50.41L5.61 52.27L3.31 53.99L1.00 55.56L-1.31 56.98L-3.62 58.24L-5.92 59.34L-8.20 60.28L-10.46 61.05L-12.69 61.66L-14.89 62.10L-17.04 62.36L-19.15 62.46L-21.21 62.38L-23.21 62.14L-25.14 61.72L-27.01 61.14L-28.80 60.38" fill="none" stroke="#444" stroke-width="0.8"/>
  <ellipse rx="28.90" ry="58.70" transform="rotate(25.5)" fill="none" stroke="#aaa" stroke-width="0.6"/>
  <ellipse rx="25.70" ry="55.50" transform="rotate(25.5)" fill="none" stroke="#222" stroke-width="1"/>
  <ellipse rx="24.70" ry="54.50" transform="rotate(25.5)" fill="none" stroke="#555" stroke-width="0.6"/>
  <path stroke="#111" stroke-width="1.05" fill="none" d="M2.4 5.8L22.5 10.7M3.8 -3.8L16.7 21.4M0.5 5.9L10.0 31.1M3.6 -1.4L2.9 39.2M-1.0 4.9L-4.4 45.3M2.6 1.1L-11.5 49.1M-1.7 2.9L-18.0 50.5M1.0 3.1L-23.5 49.4M-1.6 0.5L-28.0 45.7M-0.9 4.2L-31.0 39.8M-0.7 -2.0L-32.4 31.9M-2.8 4.3L-32.3 22.4M0.9 -4.0L-30.5 11.8M-4.3 3.2L-27.2 0.5M2.8 -5.2L-22.5 -10.7M-5.0 1.3L-16.7 -21.4M4.7 -5.3L-10.0 -31.1M-4.9 -1.2L-2.9 -39.2M6.2 -4.3L4.4 -45.3M-3.9 -3.6L11.5 -49.1M7.0 -2.4L18.0 -50.5M-2.3 -5.6L23.5 -49.4M6.9 0.1L28.0 -45.7M-0.3 -6.8L31.0 -39.8M6.0 2.5L32.4 -31.9M1.6 -6.8L32.3 -22.4M4.3 4.6L30.5 -11.8M3.0 -5.8L27.2 -0.5"/>
  <ellipse cx="1" cy="-0.5" rx="4.2" ry="6.8" transform="rotate(25.5)" fill="#fff" stroke="#111" stroke-width="1.1"/>
  <ellipse cx="3" cy="0.5" rx="2.6" ry="3.8" transform="rotate(25.5)" fill="#fff" stroke="#111" stroke-width="1"/>
  <circle cx="3" cy="0.5" r="1.1" fill="#222"/>
</g>
</defs>
<use href="#bigwheel" x="463" y="515"/>
<use href="#bigwheel" x="806.3" y="668"/>
</g>

<g id="frame">
<path d="M652 364 L672.5 335 L691 312 Q701 302 714 307 L812 357 Q826 365 821 379 L795 427" fill="none" stroke="#222" stroke-width="9.5" stroke-linecap="round" stroke-linejoin="round" />
<path d="M652 364 L672.5 335 L691 312 Q701 302 714 307 L812 357 Q826 365 821 379 L795 427" fill="none" stroke="#fff" stroke-width="7.5" stroke-linecap="round" stroke-linejoin="round" />
<path d="M655 360 C675 332 690 312 700 308" fill="none" stroke="#666" stroke-width="0.6" stroke-linecap="round" stroke-linejoin="round"/>
<path d="M645 374 L655 361" fill="none" stroke="#222" stroke-width="8.5" stroke-linecap="round" stroke-linejoin="round" />
<path d="M645 374 L655 361" fill="none" stroke="#fff" stroke-width="6.5" stroke-linecap="round" stroke-linejoin="round" />
<path d="M650 361 L659 367 M651 359 L660 365" fill="none" stroke="#222" stroke-width="1" stroke-linecap="round" stroke-linejoin="round"/>
<path d="M787 438 L796 424" fill="none" stroke="#222" stroke-width="8.5" stroke-linecap="round" stroke-linejoin="round" />
<path d="M787 438 L796 424" fill="none" stroke="#fff" stroke-width="6.5" stroke-linecap="round" stroke-linejoin="round" />
<path d="M790 422 L799 428 M789 424 L798 430" fill="none" stroke="#222" stroke-width="1" stroke-linecap="round" stroke-linejoin="round"/>
<path d="M734 319 L767 339" fill="none" stroke="#222" stroke-width="12.0" stroke-linecap="round" stroke-linejoin="round" />
<path d="M734 319 L767 339" fill="none" stroke="#fff" stroke-width="10.0" stroke-linecap="round" stroke-linejoin="round" />
<path d="M739 314 L732 326 M742 316 L735 328 M763 332 L756 344 M766 334 L759 346" fill="none" stroke="#222" stroke-width="1.1" stroke-linecap="round" stroke-linejoin="round"/>
<path d="M740 322 L762 335" fill="none" stroke="#222" stroke-width="0.8" stroke-linecap="round" stroke-linejoin="round"/>
<path d="M656 365 L735 332 M657 368 L736 335" fill="none" stroke="#222" stroke-width="0.7" stroke-linecap="round" stroke-linejoin="round"/>
<path d="M766 342 C782 352 795 375 801 407" fill="none" stroke="#222" stroke-width="0.8" stroke-linecap="round" stroke-linejoin="round"/>
<path d="M650 373 C646 385 643 398 638.5 416" fill="none" stroke="#222" stroke-width="0.8" stroke-linecap="round" stroke-linejoin="round"/>
<path d="M790 440 C782 448 772 455 765 460" fill="none" stroke="#222" stroke-width="0.8" stroke-linecap="round" stroke-linejoin="round"/>
<path d="M473 621 L574 436" fill="none" stroke="#222" stroke-width="8.8" stroke-linecap="round" stroke-linejoin="round" />
<path d="M473 621 L574 436" fill="none" stroke="#fff" stroke-width="6.8" stroke-linecap="round" stroke-linejoin="round" />
<path d="M474.5 620 L575.5 436.5" fill="none" stroke="#333" stroke-width="0.6" stroke-linecap="round" stroke-linejoin="round"/>
<path d="M476.5 621 L577 438" fill="none" stroke="#555" stroke-width="0.6" stroke-linecap="round" stroke-linejoin="round"/>
<path d="M478.5 622 L578.5 439.5" fill="none" stroke="#333" stroke-width="0.6" stroke-linecap="round" stroke-linejoin="round"/>
<path d="M543 488 L549 492 M545 485 L551 489" fill="none" stroke="#555" stroke-width="0.8" stroke-linecap="round" stroke-linejoin="round"/>
<path d="M560 455 L570 440 M566 458 L576 443" fill="none" stroke="#222" stroke-width="0.9" stroke-linecap="round" stroke-linejoin="round"/>
<path d="M607 439 L576 515" fill="none" stroke="#222" stroke-width="7.5" stroke-linecap="round" stroke-linejoin="round" />
<path d="M607 439 L576 515" fill="none" stroke="#fff" stroke-width="5.5" stroke-linecap="round" stroke-linejoin="round" />
<path d="M604 444 L578 508" fill="none" stroke="#555" stroke-width="0.5" stroke-linecap="round" stroke-linejoin="round"/>
<path d="M571 532 L567 563" fill="none" stroke="#222" stroke-width="7.5" stroke-linecap="round" stroke-linejoin="round" />
<path d="M571 532 L567 563" fill="none" stroke="#fff" stroke-width="5.5" stroke-linecap="round" stroke-linejoin="round" />
<path d="M585 489 L594 486 L597 500 L593 507 L586 510 L583 497 Z" fill="#fff" stroke="#222" stroke-width="0.9" stroke-linejoin="round"/>
<path d="M588 494 L593 492 M588 500 L593 498" fill="none" stroke="#222" stroke-width="0.8" stroke-linecap="round" stroke-linejoin="round"/>
<ellipse cx="0" cy="0" rx="7" ry="9" transform="translate(577,522) rotate(15)" fill="#fff" stroke="#222" stroke-width="1.1"/>
<circle cx="578" cy="523" r="1.2" fill="#222" stroke="#222" stroke-width="0.7"/>
<path d="M567 531 L572 529 L575 536 L570 538 Z" fill="#fff" stroke="#222" stroke-width="0.8" stroke-linejoin="round"/>
<path d="M473 620 L568 576" fill="none" stroke="#222" stroke-width="8.5" stroke-linecap="round" stroke-linejoin="round" />
<path d="M473 620 L568 576" fill="none" stroke="#fff" stroke-width="6.5" stroke-linecap="round" stroke-linejoin="round" />
<path d="M478 624 L566 582" fill="none" stroke="#444" stroke-width="0.6" stroke-linecap="round" stroke-linejoin="round"/>
<path d="M490 612 L500 610 M500 607 L510 605" fill="none" stroke="#222" stroke-width="0.9" stroke-linecap="round" stroke-linejoin="round"/>
<path d="M544 588 L566 576 L565 563 L578 565 L578 587 L571 595 L549 600 Z" fill="#fff" stroke="#222" stroke-width="1" stroke-linejoin="round"/>
<path d="M566 576 L571 595" fill="none" stroke="#222" stroke-width="0.7" stroke-linecap="round" stroke-linejoin="round"/>
<circle cx="551" cy="594" r="1.3" fill="#222" stroke="#222" stroke-width="0.6"/>
<circle cx="556" cy="588" r="1.3" fill="#222" stroke="#222" stroke-width="0.6"/>
<circle cx="572" cy="569" r="1.3" fill="#222" stroke="#222" stroke-width="0.6"/>
<circle cx="573" cy="576" r="1.3" fill="#222" stroke="#222" stroke-width="0.6"/>
<circle cx="581" cy="552" r="5" fill="#fff" stroke="#222" stroke-width="1"/>
<circle cx="581" cy="552" r="2" fill="#fff" stroke="#222" stroke-width="0.7"/>
<ellipse cx="0" cy="0" rx="7" ry="8" transform="translate(586,565) rotate(20)" fill="#fff" stroke="#222" stroke-width="1.1"/>
<ellipse cx="0" cy="0" rx="3.5" ry="5" transform="translate(588,566) rotate(20)" fill="#fff" stroke="#222" stroke-width="0.8"/>
<path d="M593 563 L603 566 L600 570 L594 568" fill="none" stroke="#222" stroke-width="1.3" stroke-linecap="round" stroke-linejoin="round"/>
<path d="M575 585 L690 627" fill="none" stroke="#222" stroke-width="6.5" stroke-linecap="round" stroke-linejoin="round" />
<path d="M575 585 L690 627" fill="none" stroke="#fff" stroke-width="4.5" stroke-linecap="round" stroke-linejoin="round" />
<path d="M570 595 L684 637" fill="none" stroke="#222" stroke-width="5.0" stroke-linecap="round" stroke-linejoin="round" />
<path d="M570 595 L684 637" fill="none" stroke="#fff" stroke-width="3.0" stroke-linecap="round" stroke-linejoin="round" />
<path d="M536 606 C560 600 600 625 680 650" fill="none" stroke="#222" stroke-width="5.0" stroke-linecap="round" stroke-linejoin="round" />
<path d="M536 606 C560 600 600 625 680 650" fill="none" stroke="#fff" stroke-width="3.0" stroke-linecap="round" stroke-linejoin="round" />
<path d="M520 615 L600 648 M540 607 L610 632" fill="none" stroke="#555" stroke-width="0.6" stroke-linecap="round" stroke-linejoin="round"/>
<path d="M471 624 L584 687 L580 698 C560 690 530 676 505 662 C495 656 488 650 485 644 Z" fill="#fff" stroke="#222" stroke-width="1.1" stroke-linejoin="round"/>
<path d="M478 634 L578 690" fill="none" stroke="#444" stroke-width="0.7" stroke-linecap="round" stroke-linejoin="round"/>
<path d="M487 646 L574 694" fill="none" stroke="#777" stroke-width="0.5" stroke-linecap="round" stroke-linejoin="round"/>
<path d="M484 638 L497 641 L498 649 L488 647 Z" fill="#fff" stroke="#222" stroke-width="0.7" stroke-linejoin="round"/>
<path d="M497 654 C503 655 510 658 513 662 L508 664 C503 661 499 659 496 657 Z" fill="#fff" stroke="#222" stroke-width="0.7" stroke-linejoin="round"/>
<path d="M562 683 L572 685 L575 693 L565 691 Z" fill="#fff" stroke="#222" stroke-width="0.7" stroke-linejoin="round"/>
<path d="M553 686 C558 688 562 690 565 693 L560 694 C556 692 553 690 550 688 Z" fill="#fff" stroke="#222" stroke-width="0.7" stroke-linejoin="round"/>
<path d="M474 623 L588 689" fill="none" stroke="#222" stroke-width="8.5" stroke-linecap="round" stroke-linejoin="round" />
<path d="M474 623 L588 689" fill="none" stroke="#fff" stroke-width="6.5" stroke-linecap="round" stroke-linejoin="round" />
<path d="M520 648 L527 645 L530 650 L523 654 Z M540 658 L546 656 L548 661 L542 664 Z" fill="#fff" stroke="#222" stroke-width="0.8" stroke-linejoin="round"/>
<path d="M592 688 C630 668 660 650 688 634" fill="none" stroke="#222" stroke-width="9.0" stroke-linecap="round" stroke-linejoin="round" />
<path d="M592 688 C630 668 660 650 688 634" fill="none" stroke="#fff" stroke-width="7.0" stroke-linecap="round" stroke-linejoin="round" />
<path d="M595 676 L622 664 L628 672 L628 684 L600 695 L594 688 Z" fill="#fff" stroke="#222" stroke-width="1" stroke-linejoin="round"/>
<circle cx="603" cy="684" r="2" fill="#fff" stroke="#222" stroke-width="0.7"/>
<circle cx="611" cy="681" r="2" fill="#fff" stroke="#222" stroke-width="0.7"/>
<circle cx="619" cy="677" r="2" fill="#fff" stroke="#222" stroke-width="0.7"/>
<path d="M670 645 L690 636 L698 643 L696 655 L676 662 L669 656 Z" fill="#fff" stroke="#222" stroke-width="1" stroke-linejoin="round"/>
<path d="M624 423 L736 474 L726 482 L626 434 Z" fill="#fff" stroke="#222" stroke-width="1" stroke-linejoin="round"/>
<circle cx="635" cy="433" r="1.8" fill="#222" stroke="#222" stroke-width="0.6"/>
<circle cx="659" cy="444" r="1.8" fill="#222" stroke="#222" stroke-width="0.6"/>
<circle cx="699" cy="462" r="1.8" fill="#222" stroke="#222" stroke-width="0.6"/>
<path d="M637 440 L656 449 L655 455 L639 448 Z" fill="#fff" stroke="#222" stroke-width="0.8" stroke-linejoin="round"/>
<path d="M700 466 L716 473 L714 480 L700 474 Z" fill="#fff" stroke="#222" stroke-width="0.8" stroke-linejoin="round"/>
<path d="M612 406 L741 464 L737 474 L622 422 Z" fill="#fff" stroke="#222" stroke-width="1.1" stroke-linejoin="round"/>
<path d="M617 412.5 L739 468.5" fill="none" stroke="#333" stroke-width="0.7" stroke-linecap="round" stroke-linejoin="round"/>
<path d="M675 434 L681 433 L684 438 L678 439 Z" fill="#fff" stroke="#222" stroke-width="0.7" stroke-linejoin="round"/>
<path d="M636 454 C650 450 668 447 685 445 L688 457 C670 459 655 463 645 469 C638 471 631 468 631.5 462 C631.5 458 633 455 636 454 Z" fill="#fff" stroke="#222" stroke-width="1.1" stroke-linejoin="round"/>
<path d="M651 459 L681 452 M652 462 L682 455" fill="none" stroke="#222" stroke-width="0.8" stroke-linecap="round" stroke-linejoin="round"/>
<path d="M647 464 L651 459" fill="none" stroke="#222" stroke-width="0.7" stroke-linecap="round" stroke-linejoin="round"/>
<path d="M681 446 L688 445 L689 458 L682 459 Z" fill="#fff" stroke="#222" stroke-width="0.9" stroke-linejoin="round"/>
<circle cx="641" cy="465" r="1.3" fill="#222" stroke="#222" stroke-width="0.6"/>
<path d="M572 430 L621 410 L626 417 L625 434 L588 440 L578 442 Z" fill="#fff" stroke="#222" stroke-width="1.1" stroke-linejoin="round"/>
<path d="M580 436 L620 420 M586 440 L616 433" fill="none" stroke="#222" stroke-width="0.7" stroke-linecap="round" stroke-linejoin="round"/>
<path d="M617 418 L626 415 L626 433 L618 436 Z" fill="#fff" stroke="#222" stroke-width="0.9" stroke-linejoin="round"/>
<circle cx="596" cy="427" r="1.2" fill="#222" stroke="#222" stroke-width="0.5"/>
<circle cx="606" cy="423" r="1.2" fill="#222" stroke="#222" stroke-width="0.5"/>
<circle cx="592" cy="436" r="1.2" fill="#222" stroke="#222" stroke-width="0.5"/>
<circle cx="604" cy="434" r="1.2" fill="#222" stroke="#222" stroke-width="0.5"/>
<path d="M583 440 L592 437 L592 445 L587 447 Z" fill="#fff" stroke="#222" stroke-width="0.9" stroke-linejoin="round"/>
<path d="M613 403 L624 396" fill="none" stroke="#222" stroke-width="8.0" stroke-linecap="round" stroke-linejoin="round" />
<path d="M613 403 L624 396" fill="none" stroke="#fff" stroke-width="6.0" stroke-linecap="round" stroke-linejoin="round" />
<circle cx="607.5" cy="409.5" r="5.5" fill="#fff" stroke="#222" stroke-width="1.1"/>
<circle cx="576.5" cy="435" r="6" fill="#fff" stroke="#222" stroke-width="1.1"/>
<path d="M571 433 L578 428 L583 432 L578 440 Z" fill="#fff" stroke="#222" stroke-width="0.8" stroke-linejoin="round"/>
<path d="M735 485 L712 545 L705 580 L694 622" fill="none" stroke="#222" stroke-width="7.5" stroke-linecap="round" stroke-linejoin="round" />
<path d="M735 485 L712 545 L705 580 L694 622" fill="none" stroke="#fff" stroke-width="5.5" stroke-linecap="round" stroke-linejoin="round" />
<path d="M731 487 L709 545" fill="none" stroke="#555" stroke-width="0.5" stroke-linecap="round" stroke-linejoin="round"/>
<path d="M702 546 L712 541 L716 560 L706 566 Z" fill="#fff" stroke="#222" stroke-width="0.9" stroke-linejoin="round"/>
<circle cx="705" cy="580" r="6" fill="#fff" stroke="#222" stroke-width="1.1"/>
<circle cx="706" cy="580" r="3" fill="#fff" stroke="#222" stroke-width="0.8"/>
<path d="M590 671 L700 495" fill="none" stroke="#222" stroke-width="10.0" stroke-linecap="round" stroke-linejoin="round" />
<path d="M590 671 L700 495" fill="none" stroke="#fff" stroke-width="8.0" stroke-linecap="round" stroke-linejoin="round" />
<path d="M595 669 L704 498" fill="none" stroke="#555" stroke-width="0.6" stroke-linecap="round" stroke-linejoin="round"/>
<path d="M696 484 L740 466 L737 483 L705 493 Z" fill="#fff" stroke="#222" stroke-width="1.1" stroke-linejoin="round"/>
<path d="M712 480 L727 476 L727 485 L712 489 Z" fill="#444" stroke="#222" stroke-width="0.8" stroke-linejoin="round"/>
<path d="M752 468 L763 461" fill="none" stroke="#222" stroke-width="9.0" stroke-linecap="round" stroke-linejoin="round" />
<path d="M752 468 L763 461" fill="none" stroke="#fff" stroke-width="7.0" stroke-linecap="round" stroke-linejoin="round" />
<circle cx="749" cy="476.5" r="8" fill="#fff" stroke="#222" stroke-width="1.1"/>
<circle cx="751" cy="475.5" r="4" fill="#fff" stroke="#222" stroke-width="1"/>
<circle cx="701" cy="493" r="6" fill="#fff" stroke="#222" stroke-width="1.1"/>
<circle cx="589" cy="673" r="7" fill="#fff" stroke="#222" stroke-width="1.1"/>
<circle cx="590" cy="673" r="3.5" fill="#fff" stroke="#222" stroke-width="0.8"/>
<circle cx="472" cy="621" r="5.5" fill="#fff" stroke="#222" stroke-width="1.1"/>
<path d="M682 598 L714 603 L715 608 L690 608 L682 604 Z" fill="#fff" stroke="#222" stroke-width="1" stroke-linejoin="round"/>
<circle cx="696" cy="627" r="6" fill="#fff" stroke="#222" stroke-width="1.1"/>
<circle cx="696" cy="627" r="2.5" fill="#fff" stroke="#222" stroke-width="0.8"/>
<path d="M702 619 L716 612 L724 630 L710 637 Z" fill="#fff" stroke="#222" stroke-width="1" stroke-linejoin="round"/>
<ellipse cx="0" cy="0" rx="9.5" ry="15" transform="translate(719.5,627.5) rotate(25)" fill="#fff" stroke="#222" stroke-width="1.2"/>
<ellipse cx="0" cy="0" rx="5.5" ry="9" transform="translate(721,627) rotate(25)" fill="#fff" stroke="#333" stroke-width="0.9"/>
<g fill="#333"><circle cx="725.2" cy="627.0" r="1"/><circle cx="723.9710307305022" cy="631.9477762677376" r="1"/><circle cx="721.003344572185" cy="633.9999977805228" r="1"/><circle cx="718.033701091756" cy="631.955656360539" r="1"/><circle cx="716.8000053267443" cy="627.0111485704155" r="1"/><circle cx="718.0242449833925" cy="622.0601163753207" r="1"/><circle cx="720.9899662919285" cy="620.000019975286" r="1"/><circle cx="723.9615595618354" cy="622.0364761169045" r="1"/></g>
<circle cx="721" cy="627" r="2.2" fill="#222" stroke="#222" stroke-width="0.8"/>
<path d="M729 633 L752 644" fill="none" stroke="#444" stroke-width="0.6" stroke-linecap="round" stroke-linejoin="round"/>
<path d="M753 641 L757 638 L760 640 L764 638 L767 642 L770 645 L768 649 L769 653 L765 655 L761 655 L758 657 L754 654 L753 650 L751 646 Z" fill="#555" stroke="#111" stroke-width="1"/>
<circle cx="761" cy="647" r="3" fill="#888" stroke="#222" stroke-width="0.8"/>
<path d="M847 686 L854 689 L853 694 L846 691 Z" fill="#fff" stroke="#222" stroke-width="0.9" stroke-linejoin="round"/>
<circle cx="859.5" cy="692" r="2.5" fill="#fff" stroke="#222" stroke-width="0.9"/>
<path d="M865 694 L889 706" fill="none" stroke="#222" stroke-width="4.5" stroke-linecap="round" stroke-linejoin="round" />
<path d="M865 694 L889 706" fill="none" stroke="#fff" stroke-width="2.5" stroke-linecap="round" stroke-linejoin="round" />
<circle cx="893" cy="708" r="4" fill="#fff" stroke="#222" stroke-width="1.1"/>
<path d="M486 522 L500 528" fill="none" stroke="#222" stroke-width="0.8" stroke-linecap="round" stroke-linejoin="round"/>
<ellipse cx="0" cy="0" rx="15.7" ry="29.3" transform="translate(415.5,667.5) rotate(32.7)" fill="#fff" stroke="#222" stroke-width="1.2"/>
<ellipse cx="0" cy="0" rx="15.7" ry="29.3" transform="translate(418.5,666.5) rotate(32.7)" fill="#fff" stroke="#222" stroke-width="1.2"/>
<ellipse cx="0" cy="0" rx="12.3" ry="25.2" transform="translate(419.5,666) rotate(32.7)" fill="#fff" stroke="#222" stroke-width="1"/>
<ellipse cx="0" cy="0" rx="9.8" ry="21.5" transform="translate(420.5,666) rotate(32.7)" fill="#fff" stroke="#222" stroke-width="0.7"/>
<path d="M410 682 L428 652 M414 686 L432 658 M406 674 L426 648 M412 660 L430 680" fill="none" stroke="#222" stroke-width="0.8" stroke-linecap="round" stroke-linejoin="round"/>
<path d="M407 652 L414 649 L428 676 L422 680 Z" fill="#fff" stroke="#222" stroke-width="1" stroke-linejoin="round"/>
<path d="M411 651 L425 678" fill="none" stroke="#222" stroke-width="0.6" stroke-linecap="round" stroke-linejoin="round"/>
<path d="M391 644 L402 627.5 L423 630.5 L426 637.5 L400 657.5 L391 653 Z" fill="#fff" stroke="#222" stroke-width="1.1" stroke-linejoin="round"/>
<path d="M391 648 L425 639 L425.5 642 L400 657.5 L392 653 Z" fill="#d8d8d8" stroke="#222" stroke-width="1" stroke-linejoin="round"/>
<path d="M398 650 L404 648 M408 647 L414 645" fill="none" stroke="#222" stroke-width="1.4" stroke-linecap="round" stroke-linejoin="round"/>
<circle cx="410" cy="649" r="2" fill="#555" stroke="#222" stroke-width="0.8"/>
<ellipse cx="0" cy="0" rx="13.9" ry="28.5" transform="translate(668,756) rotate(31.75)" fill="#fff" stroke="#222" stroke-width="1.2"/>
<ellipse cx="0" cy="0" rx="13.9" ry="28.5" transform="translate(670.6,755.3) rotate(31.75)" fill="#fff" stroke="#222" stroke-width="1.2"/>
<ellipse cx="0" cy="0" rx="11" ry="24.5" transform="translate(672,755) rotate(31.75)" fill="#fff" stroke="#222" stroke-width="1"/>
<ellipse cx="0" cy="0" rx="8.8" ry="21" transform="translate(673,755) rotate(31.75)" fill="#fff" stroke="#222" stroke-width="0.7"/>
<path d="M664 770 L680 748 M668 774 L684 752 M660 762 L676 742" fill="none" stroke="#222" stroke-width="0.8" stroke-linecap="round" stroke-linejoin="round"/>
<path d="M658 744 L670 740 L680 760 L674 766 Z" fill="#fff" stroke="#222" stroke-width="1" stroke-linejoin="round"/>
<path d="M636 733 L663.5 717.6 L668 718.8 L674 731.5 L666.5 739 L646 744.3 L638 739 Z" fill="#fff" stroke="#222" stroke-width="1.1" stroke-linejoin="round"/>
<path d="M637 735 L667 733 L666.5 739 L646 744.3 L638 739 Z" fill="#e0e0e0" stroke="#222" stroke-width="1" stroke-linejoin="round"/>
<path d="M640 737 L644 739" fill="none" stroke="#222" stroke-width="1.2" stroke-linecap="round" stroke-linejoin="round"/>
<path d="M401 773.5 H478 C491 773 496 766 496.5 754 L497 742 C497 738 500 735 505 732" fill="none" stroke="#222" stroke-width="9.5" stroke-linecap="round" stroke-linejoin="round" />
<path d="M401 773.5 H478 C491 773 496 766 496.5 754 L497 742 C497 738 500 735 505 732" fill="none" stroke="#fff" stroke-width="7.5" stroke-linecap="round" stroke-linejoin="round" />
<path d="M405 776 H470" fill="none" stroke="#666" stroke-width="0.5" stroke-linecap="round" stroke-linejoin="round"/>
<circle cx="409.8" cy="776.5" r="1.6" fill="#fff" stroke="#222" stroke-width="0.7"/>
<path d="M514 730 L535 715" fill="none" stroke="#222" stroke-width="8.5" stroke-linecap="round" stroke-linejoin="round" />
<path d="M514 730 L535 715" fill="none" stroke="#fff" stroke-width="6.5" stroke-linecap="round" stroke-linejoin="round" />
<path d="M499 726 L504 720 L517 726 L518 733 L511 738 L502 735 Z" fill="#fff" stroke="#222" stroke-width="1.1" stroke-linejoin="round"/>
<path d="M504 720 L506 728 L517 733 M506 728 L502 735" fill="none" stroke="#222" stroke-width="0.7" stroke-linecap="round" stroke-linejoin="round"/>
<path d="M383 768 L386 762 L393 764 L398 769 L400 772 L399 779 L392 783 L384 781 L381 775 Z" fill="#fff" stroke="#222" stroke-width="1.2" stroke-linejoin="round"/>
<circle cx="387" cy="763" r="2.8" fill="#fff" stroke="#222" stroke-width="1.1"/>
<circle cx="387" cy="763" r="1.1" fill="#222" stroke="#222" stroke-width="0.6"/>
<circle cx="386" cy="779" r="2.6" fill="#fff" stroke="#222" stroke-width="1.1"/>
<ellipse cx="0" cy="0" rx="3.5" ry="5" transform="translate(391,772) rotate(20)" fill="#fff" stroke="#222" stroke-width="1.1"/>
<path d="M383 770 L389 768 M394 766 L398 770 M384 777 L390 776 M392 781 L396 778" fill="none" stroke="#222" stroke-width="1.3" stroke-linecap="round" stroke-linejoin="round"/>
<path d="M398 768 L403 768 L403 778 L398 778 Z" fill="#fff" stroke="#222" stroke-width="1" stroke-linejoin="round"/>
<path d="M493 720 L492 732 L490 748" fill="none" stroke="#222" stroke-width="1.2" stroke-linecap="round" stroke-linejoin="round"/>
<circle cx="493" cy="721" r="1.8" fill="#fff" stroke="#222" stroke-width="0.8"/>
<path d="M491 730 L494 740" fill="none" stroke="#222" stroke-width="1.6" stroke-linecap="round" stroke-linejoin="round"/>
<path d="M540 710 L567 699" fill="none" stroke="#777" stroke-width="0.5" stroke-linecap="round" stroke-linejoin="round"/>
</g>
</g>
<!-- dashed leaders -->
<g class="ds">
<path d="M338.5 348.5H433L547 492"/>
<path d="M484.5 165L597.5 283V418"/>
<path d="M838 168L719 275V467"/>
<path d="M965.5 358.5H841L743 463"/>
<path d="M179.5 520.5H547"/>
<path d="M990.5 490.5H786L713 555"/>
<path d="M286.5 694.5H363L553 577"/>
<path d="M988.5 763.5L795 766L696 651"/>
<path d="M477.5 835V644"/>
<path d="M668 833L620.5 761V687"/>
<path d="M574.5 985V705"/>
</g>
<!-- labels -->
<g class="lb">
<circle cx="49.0" cy="53.6" r="15.7"/>
<g fill="none" stroke="#fff" stroke-width="2.5" aria-label="101"><g transform="translate(37.75 47.95)"><path d="M3.05 0V11.3"/><path d="M0.2 2.9L3.05 1.1" stroke-width="2.3"/></g><g transform="translate(44.55 47.95)"><ellipse cx="4.45" cy="5.65" rx="3.2" ry="4.4"/></g><g transform="translate(55.95 47.95)"><path d="M3.05 0V11.3"/><path d="M0.2 2.9L3.05 1.1" stroke-width="2.3"/></g></g>
<circle cx="384.2" cy="51.6" r="15.7"/>
<g fill="none" stroke="#fff" stroke-width="2.5" aria-label="102"><g transform="translate(371.05 45.95)"><path d="M3.05 0V11.3"/><path d="M0.2 2.9L3.05 1.1" stroke-width="2.3"/></g><g transform="translate(377.85 45.95)"><ellipse cx="4.45" cy="5.65" rx="3.2" ry="4.4"/></g><g transform="translate(388.35 45.95)"><path d="M1.3 3.9C1.5 2.1 2.9 1.25 4.6 1.25C6.6 1.25 7.9 2.5 7.9 4.1C7.9 5.5 7.1 6.4 5.9 7.4L1.6 10.05" stroke-linejoin="round"/><path d="M0.5 10.05H9.0"/></g></g>
<circle cx="807.3" cy="54.5" r="15.7"/>
<g fill="none" stroke="#fff" stroke-width="2.5" aria-label="103"><g transform="translate(794.30 48.85)"><path d="M3.05 0V11.3"/><path d="M0.2 2.9L3.05 1.1" stroke-width="2.3"/></g><g transform="translate(801.10 48.85)"><ellipse cx="4.45" cy="5.65" rx="3.2" ry="4.4"/></g><g transform="translate(811.60 48.85)"><path d="M0.9 1.25H7.5L4.3 5.0C6.6 4.9 8.1 6.1 8.1 7.7C8.1 9.3 6.6 10.1 4.5 10.1C2.9 10.1 1.6 9.5 0.7 8.4" stroke-linejoin="miter"/></g></g>
<circle cx="965.2" cy="297.2" r="15.7"/>
<g fill="none" stroke="#fff" stroke-width="2.5" aria-label="104"><g transform="translate(952.15 291.55)"><path d="M3.05 0V11.3"/><path d="M0.2 2.9L3.05 1.1" stroke-width="2.3"/></g><g transform="translate(958.95 291.55)"><ellipse cx="4.45" cy="5.65" rx="3.2" ry="4.4"/></g><g transform="translate(969.45 291.55)"><path d="M6.3 11.3V0.9L0.8 7.9H8.8" stroke-linejoin="miter"/></g></g>
<circle cx="54.0" cy="411.7" r="15.7"/>
<g fill="none" stroke="#fff" stroke-width="2.5" aria-label="105"><g transform="translate(41.05 406.05)"><path d="M3.05 0V11.3"/><path d="M0.2 2.9L3.05 1.1" stroke-width="2.3"/></g><g transform="translate(47.85 406.05)"><ellipse cx="4.45" cy="5.65" rx="3.2" ry="4.4"/></g><g transform="translate(58.35 406.05)"><path d="M7.6 1.25H2.3L1.7 5.5C2.5 5.0 3.4 4.8 4.4 4.8C6.6 4.8 8.0 6.0 8.0 7.6C8.0 9.2 6.5 10.1 4.4 10.1C2.8 10.1 1.5 9.5 0.6 8.4" stroke-linejoin="miter"/></g></g>
<circle cx="990.8" cy="437.8" r="15.7"/>
<g fill="none" stroke="#fff" stroke-width="2.5" aria-label="106"><g transform="translate(977.75 432.15)"><path d="M3.05 0V11.3"/><path d="M0.2 2.9L3.05 1.1" stroke-width="2.3"/></g><g transform="translate(984.55 432.15)"><ellipse cx="4.45" cy="5.65" rx="3.2" ry="4.4"/></g><g transform="translate(995.05 432.15)"><path d="M6.2 0.4L2.4 5.6"/><ellipse cx="4.4" cy="7.3" rx="3.05" ry="2.8"/></g></g>
<circle cx="134.0" cy="658.3" r="15.7"/>
<g fill="none" stroke="#fff" stroke-width="2.5" aria-label="107"><g transform="translate(121.15 652.65)"><path d="M3.05 0V11.3"/><path d="M0.2 2.9L3.05 1.1" stroke-width="2.3"/></g><g transform="translate(127.95 652.65)"><ellipse cx="4.45" cy="5.65" rx="3.2" ry="4.4"/></g><g transform="translate(138.45 652.65)"><path d="M0.4 1.25H7.8L3.4 11.3" stroke-linejoin="miter"/></g></g>
<circle cx="988.3" cy="691.8" r="15.7"/>
<g fill="none" stroke="#fff" stroke-width="2.5" aria-label="108"><g transform="translate(975.25 686.15)"><path d="M3.05 0V11.3"/><path d="M0.2 2.9L3.05 1.1" stroke-width="2.3"/></g><g transform="translate(982.05 686.15)"><ellipse cx="4.45" cy="5.65" rx="3.2" ry="4.4"/></g><g transform="translate(992.55 686.15)"><ellipse cx="4.4" cy="3.4" rx="2.6" ry="2.15"/><ellipse cx="4.4" cy="7.75" rx="3.15" ry="2.35"/></g></g>
<circle cx="42.2" cy="810.6" r="15.7"/>
<g fill="none" stroke="#fff" stroke-width="2.5" aria-label="109"><g transform="translate(29.15 804.95)"><path d="M3.05 0V11.3"/><path d="M0.2 2.9L3.05 1.1" stroke-width="2.3"/></g><g transform="translate(35.95 804.95)"><ellipse cx="4.45" cy="5.65" rx="3.2" ry="4.4"/></g><g transform="translate(46.45 804.95)"><ellipse cx="4.4" cy="4.0" rx="3.05" ry="2.8"/><path d="M6.6 5.7L2.8 11.0"/></g></g>
<circle cx="388.0" cy="835.0" r="15.7"/>
<g fill="none" stroke="#fff" stroke-width="2.5" aria-label="110"><g transform="translate(376.75 829.35)"><path d="M3.05 0V11.3"/><path d="M0.2 2.9L3.05 1.1" stroke-width="2.3"/></g><g transform="translate(383.55 829.35)"><path d="M3.05 0V11.3"/><path d="M0.2 2.9L3.05 1.1" stroke-width="2.3"/></g><g transform="translate(390.35 829.35)"><ellipse cx="4.45" cy="5.65" rx="3.2" ry="4.4"/></g></g>
<circle cx="606.0" cy="832.4" r="15.7"/>
<g fill="none" stroke="#fff" stroke-width="2.5" aria-label="111"><g transform="translate(597.05 826.75)"><path d="M3.05 0V11.3"/><path d="M0.2 2.9L3.05 1.1" stroke-width="2.3"/></g><g transform="translate(603.85 826.75)"><path d="M3.05 0V11.3"/><path d="M0.2 2.9L3.05 1.1" stroke-width="2.3"/></g><g transform="translate(610.65 826.75)"><path d="M3.05 0V11.3"/><path d="M0.2 2.9L3.05 1.1" stroke-width="2.3"/></g></g>
<circle cx="461.6" cy="985.0" r="15.7"/>
<g fill="none" stroke="#fff" stroke-width="2.5" aria-label="112"><g transform="translate(450.30 979.35)"><path d="M3.05 0V11.3"/><path d="M0.2 2.9L3.05 1.1" stroke-width="2.3"/></g><g transform="translate(457.10 979.35)"><path d="M3.05 0V11.3"/><path d="M0.2 2.9L3.05 1.1" stroke-width="2.3"/></g><g transform="translate(463.90 979.35)"><path d="M1.3 3.9C1.5 2.1 2.9 1.25 4.6 1.25C6.6 1.25 7.9 2.5 7.9 4.1C7.9 5.5 7.1 6.4 5.9 7.4L1.6 10.05" stroke-linejoin="round"/><path d="M0.5 10.05H9.0"/></g></g>
<circle cx="850.0" cy="859.8" r="15.7"/>
<g fill="none" stroke="#fff" stroke-width="2.5" aria-label="113"><g transform="translate(838.85 854.15)"><path d="M3.05 0V11.3"/><path d="M0.2 2.9L3.05 1.1" stroke-width="2.3"/></g><g transform="translate(845.65 854.15)"><path d="M3.05 0V11.3"/><path d="M0.2 2.9L3.05 1.1" stroke-width="2.3"/></g><g transform="translate(852.45 854.15)"><path d="M0.9 1.25H7.5L4.3 5.0C6.6 4.9 8.1 6.1 8.1 7.7C8.1 9.3 6.6 10.1 4.5 10.1C2.9 10.1 1.6 9.5 0.7 8.4" stroke-linejoin="miter"/></g></g>
</g>
</svg>
</body></html>
